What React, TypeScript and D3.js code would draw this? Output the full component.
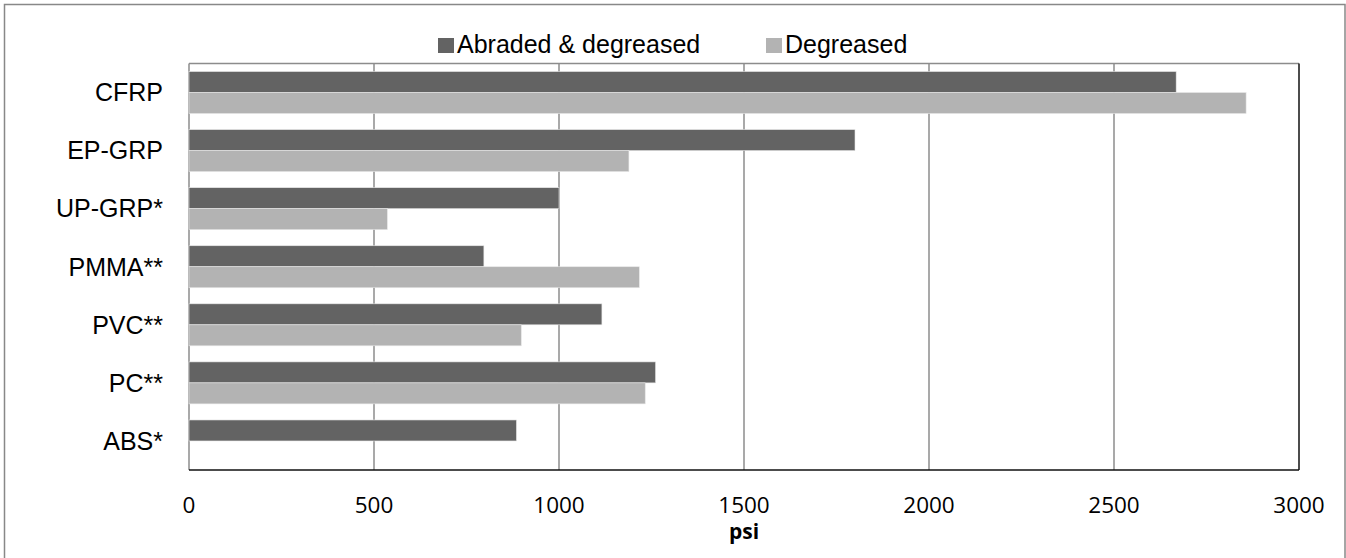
import React, { useEffect, useRef } from 'react';
import * as d3 from 'd3';

const categories = ['CFRP', 'EP-GRP', 'UP-GRP*', 'PMMA**', 'PVC**', 'PC**', 'ABS*'];
const seriesNames = ['Abraded & degreased', 'Degreased'];
const abradedValues = [2668, 1800, 1000, 797, 1116, 1261, 885];
const degreasedValues = [2857, 1189, 536, 1217, 898, 1233, 0];
const xTicks = [0, 500, 1000, 1500, 2000, 2500, 3000];

const width = 1346;
const height = 558;
const colors = ['#636363', '#b3b3b3'];

function App() {
  const ref = useRef<SVGSVGElement>(null);

  useEffect(() => {
    drawChart();
  }, []);

  function drawChart() {
    const svg = d3.select(ref.current);
    svg.selectAll('*').remove();

    const left = 189;
    const right = 1299;
    const top = 63.5;
    const bottom = 470;

    // outer frame (bottom edge falls outside the picture)
    svg.append('rect')
      .attr('x', 4.5).attr('y', 4.5)
      .attr('width', width - 5.5).attr('height', height + 10)
      .attr('fill', '#fff')
      .attr('stroke', '#888').attr('stroke-width', 1.5);

    const x = d3.scaleLinear().domain([0, 3000]).range([left, right]);
    const y = d3.scaleBand<string>()
      .domain(categories)
      .range([top, bottom])
      .paddingInner(0.277)
      .paddingOuter(0.1385);
    const sub = d3.scaleBand<string>().domain(seriesNames).range([0, y.bandwidth()]);

    // gridlines
    svg.append('g')
      .selectAll('line')
      .data(xTicks.slice(1, -1))
      .enter()
      .append('line')
      .attr('x1', (d) => x(d)).attr('x2', (d) => x(d))
      .attr('y1', top).attr('y2', bottom)
      .attr('stroke', '#8c8c8c').attr('stroke-width', 1.5);

    // plot border: top/left gray
    svg.append('line').attr('x1', left).attr('x2', right).attr('y1', top).attr('y2', top)
      .attr('stroke', '#8c8c8c').attr('stroke-width', 1.5);
    svg.append('line').attr('x1', left).attr('x2', left).attr('y1', top).attr('y2', bottom)
      .attr('stroke', '#8c8c8c').attr('stroke-width', 1.5);

    const seriesData = [abradedValues, degreasedValues];
    seriesNames.forEach((name, s) => {
      svg.append('g')
        .selectAll('rect')
        .data(categories)
        .enter()
        .filter((_, i) => seriesData[s][i] > 0)
        .append('rect')
        .attr('x', x(0))
        .attr('y', (d) => (y(d) as number) + (sub(name) as number))
        .attr('width', (d) => x(seriesData[s][categories.indexOf(d)]) - x(0))
        .attr('height', sub.bandwidth())
        .attr('fill', colors[s])
        .attr('stroke', '#e6e6e6')
        .attr('stroke-width', 0.6);
    });

    // right and bottom border black
    svg.append('line').attr('x1', right).attr('x2', right).attr('y1', top).attr('y2', bottom)
      .attr('stroke', '#111').attr('stroke-width', 1.5);
    svg.append('line').attr('x1', left).attr('x2', right).attr('y1', bottom).attr('y2', bottom)
      .attr('stroke', '#111').attr('stroke-width', 1.5);

    // category labels
    svg.append('g')
      .selectAll('text')
      .data(categories)
      .enter()
      .append('text')
      .attr('x', 163)
      .attr('y', (d) => (y(d) as number) + y.bandwidth() / 2)
      .attr('dy', '0.35em')
      .attr('text-anchor', 'end')
      .style('font-family', 'Liberation Sans, Arial, sans-serif')
      .style('font-size', '25px')
      .attr('fill', '#000')
      .text((d) => d);

    // tick labels
    svg.append('g')
      .selectAll('text')
      .data(xTicks)
      .enter()
      .append('text')
      .attr('x', (d) => x(d))
      .attr('y', 513)
      .attr('text-anchor', 'middle')
      .style('font-family', 'Open Sans, sans-serif')
      .style('font-size', '22.5px')
      .attr('fill', '#000')
      .text((d) => d);

    svg.append('text')
      .attr('x', (left + right) / 2)
      .attr('y', 539)
      .attr('text-anchor', 'middle')
      .style('font-family', 'Open Sans, sans-serif')
      .style('font-size', '21px')
      .style('font-weight', 'bold')
      .text('psi');

    // legend
    const legendX = [438, 766];
    const legend = svg.append('g')
      .selectAll('g')
      .data(seriesNames)
      .enter()
      .append('g')
      .attr('transform', (_, i) => `translate(${legendX[i]}, 0)`);
    legend.append('rect')
      .attr('x', 0).attr('y', 38)
      .attr('width', 16).attr('height', 15)
      .attr('fill', (_, i) => colors[i]);
    legend.append('text')
      .attr('x', 19)
      .attr('y', 53)
      .style('font-family', 'Liberation Sans, Arial, sans-serif')
      .style('font-size', '25px')
      .attr('fill', '#000')
      .text((d) => d);
  }

  return (
    <svg
      ref={ref}
      width={width}
      height={height}
      style={{ position: 'absolute', left: 0, top: 0, display: 'block' }}
    />
  );
}

export default App;
